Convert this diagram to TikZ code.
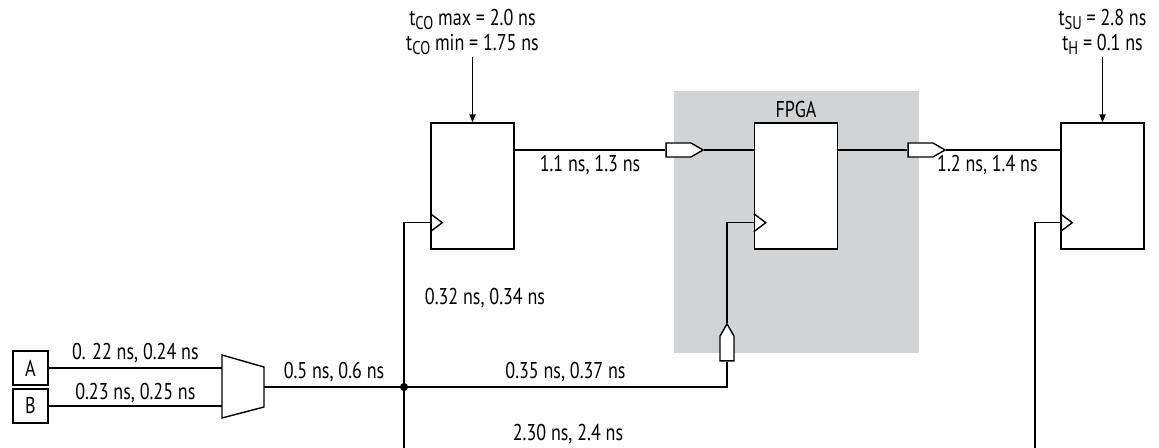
\documentclass[tikz,border=0pt]{standalone}
\usepackage{fontspec}
\setmainfont{PT Sans}[FakeStretch=0.79]
\usetikzlibrary{arrows.meta,calc,positioning,shapes.symbols}
\definecolor{fpgagray}{RGB}{209,211,212}
\newcommand{\tsub}[1]{\raisebox{-0.35ex}{\fontsize{10.5}{10.5}\selectfont #1}}

\begin{document}
\begin{tikzpicture}[x=0.02cm, y=-0.02cm, line width=0.8pt,
  font=\fontsize{13}{14.5}\selectfont,
  reg/.style={draw, fill=white, minimum width=1.66cm, minimum height=2.52cm, inner sep=0pt},
  inbox/.style={draw, minimum width=0.7cm, minimum height=0.68cm, inner sep=0pt},
  buf/.style={draw, fill=white, signal, signal to=east, signal pointer angle=60,
    minimum width=0.74cm, minimum height=0.28cm, inner sep=0pt},
  lbl/.style={inner sep=2.5pt},
  >={Triangle[length=4.5pt,width=3.5pt]}]
\useasboundingbox (0,0) rectangle (1159,448);
\fill[fpgagray] (674,91) rectangle (919,353);

\node[reg] (r1) at (472.5,186) {};
\node[reg] (r2) at (796,186) {};
\node[reg] (r3) at (1102.5,186) {};
\node[lbl, inner sep=1pt, above=1pt of r2] (fpga) {FPGA};
\foreach \r in {r1,r2,r3} {
  \draw ($(\r.south west)+(0,-36)$) -- ++(12,9) -- ++(-12,9);
  \coordinate (\r-clk) at ($(\r.south west)+(0,-27)$);
}

\node[lbl, inner sep=1pt, align=center, above=1.3cm of r1] (tco) {t\tsub{CO} max = 2.0 ns\\t\tsub{CO} min = 1.75 ns};
\node[lbl, inner sep=1pt, align=center, above=1.3cm of r3] (tsu) {t\tsub{SU} = 2.8 ns\\t\tsub{H} = 0.1 ns};
\draw[->] (tco) -- (r1);
\draw[->] (tsu) -- (r3);

\node[buf] (ib) at (678.5,150) {};
\node[buf] (ob) at (920.5,150) {};
\node[buf, rotate=90] (cb) at (727,348.5) {};
\draw (r1.north east |- ib) -- node[lbl, below] {1.1 ns, 1.3 ns} (ib.west);
\draw (ib.east) -- (r2.west |- ib);
\draw (r2.east |- ob) -- (ob.west);
\draw (ob.east) -- node[lbl, below, pos=0.36] {1.2 ns, 1.4 ns} (r3.west |- ob);

\node[inbox] (a) at (30.5,368) {A};
\node[inbox] (b) at (30.5,406) {B};
\draw (222,355) -- (264,367) -- (264,407) -- (222,418) -- cycle;
\coordinate (mi1) at (222,368);
\coordinate (mi2) at (222,406);
\coordinate (mo) at (264,387);
\coordinate (j) at (404,387);
\draw (a) -- node[lbl, above] {0. 22 ns, 0.24 ns} (mi1);
\draw (b) -- node[lbl, above, inner sep=1.5pt] {0.23 ns, 0.25 ns} (mi2);
\draw (mo) -- node[lbl, above] {0.5 ns, 0.6 ns} (j);
\fill (j) circle[radius=2.3pt];

\draw (j) |- (r1-clk);
\draw (j) -| node[lbl, above, pos=0.25] {0.35 ns, 0.37 ns} (cb.west);
\draw (cb.east) |- (r2-clk);
\coordinate (d1) at (404,448);
\coordinate (d2) at (1035,448);
\draw (j) -- (d1);
\draw (d2) |- (r3-clk);
\node[lbl] (l32) at (485,298) {0.32 ns, 0.34 ns};
\node[lbl] (l230) at (568,434) {2.30 ns, 2.4 ns};
\end{tikzpicture}
\end{document}
